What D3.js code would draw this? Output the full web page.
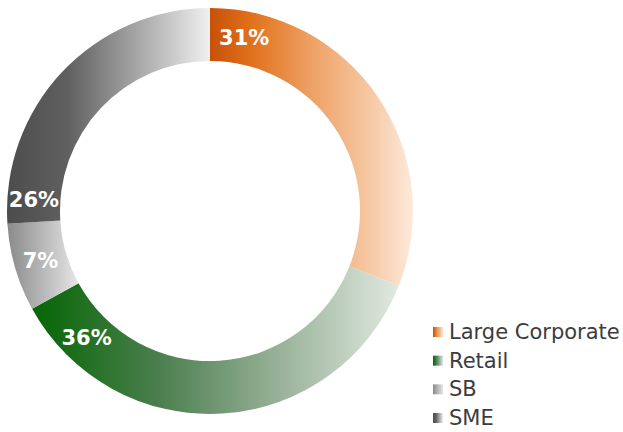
<!DOCTYPE html>
<html>
<head>
<meta charset="utf-8">
<script src="https://cdn.jsdelivr.net/npm/d3@7"></script>
<style>
  body { margin: 0; background: #fff; }
  svg { display: block; }
  .legend text { font-family: "DejaVu Sans", sans-serif; font-size: 21px; fill: #3c3c3c; }
  .pct { font-family: "DejaVu Sans", sans-serif; font-size: 21px; font-weight: bold; fill: #fff; }
</style>
</head>
<body>
<script>
//segment names and shares, clockwise from 12 o'clock
var categories = ["Large Corporate", "Retail", "SB", "SME"];
var shares = [31, 36, 7, 26];
var labels = ["31%", "36%", "7%", "26%"];

//gradient stops for each segment (left -> right)
var gradStops = [
  [["0", "#c75108"], ["0.2", "#e1701b"], ["0.5", "#eea165"], ["0.8", "#f6caa6"], ["1", "#fdeadc"]],
  [["0", "#046604"], ["0.35", "#4c7f4f"], ["0.7", "#9eb69e"], ["1", "#e1e9e1"]],
  [["0", "#8a8a8a"], ["1", "#e6e6e6"]],
  [["0", "#4c4c4c"], ["0.3", "#606060"], ["0.65", "#a8a8a8"], ["1", "#f0f0f0"]]
];
//where the % label sits inside each segment (fraction of its sweep)
var labelAt = [0.1, 0.87, 0.5, 0.08];

(function draw(){
  var width = 623, height = 432;
  var cx = 210, cy = 211, rOuter = 203, rInner = 150;

  var svg = d3.select("body").append("svg")
    .attr("width", width)
    .attr("height", height);

  //one horizontal gradient per segment
  var defs = svg.append("defs");
  gradStops.forEach(function(stops, i){
    var g = defs.append("linearGradient")
      .attr("id", "grad" + i)
      .attr("x1", 0).attr("y1", 0)
      .attr("x2", 1).attr("y2", 0);
    stops.forEach(function(s){
      g.append("stop").attr("offset", s[0]).attr("stop-color", s[1]);
    });
  });

  var pie = d3.pie().sort(null).value(function(d){ return d; });
  var arcs = pie(shares);

  var arc = d3.arc().innerRadius(rInner).outerRadius(rOuter);

  var ring = svg.append("g")
    .attr("transform", "translate(" + cx + "," + cy + ")");

  ring.selectAll(".seg")
    .data(arcs)
    .enter()
    .append("path")
    .attr("class", "seg")
    .attr("d", arc)
    .style("fill", function(d, i){ return "url(#grad" + i + ")"; });

  //percentage labels on the ring
  var rMid = (rInner + rOuter) / 2;
  ring.selectAll(".pct")
    .data(arcs)
    .enter()
    .append("text")
    .attr("class", "pct")
    .attr("text-anchor", "middle")
    .attr("dy", "0.36em")
    .attr("x", function(d, i){
      var a = d.startAngle + (d.endAngle - d.startAngle) * labelAt[i];
      return rMid * Math.sin(a);
    })
    .attr("y", function(d, i){
      var a = d.startAngle + (d.endAngle - d.startAngle) * labelAt[i];
      return -rMid * Math.cos(a);
    })
    .text(function(d, i){ return labels[i]; });

  //legend
  var legendY = d3.scalePoint()
    .domain(categories)
    .range([332, 418]);

  var legend = svg.append("g").attr("class", "legend");
  var items = legend.selectAll("g")
    .data(categories)
    .enter()
    .append("g")
    .attr("transform", function(d){ return "translate(433," + legendY(d) + ")"; });

  items.append("rect")
    .attr("x", 0)
    .attr("y", -5)
    .attr("width", 10)
    .attr("height", 10)
    .style("fill", function(d, i){ return "url(#grad" + i + ")"; });

  items.append("text")
    .attr("x", 16)
    .attr("y", 7)
    .text(function(d){ return d; });
})();
</script>
</body>
</html>
